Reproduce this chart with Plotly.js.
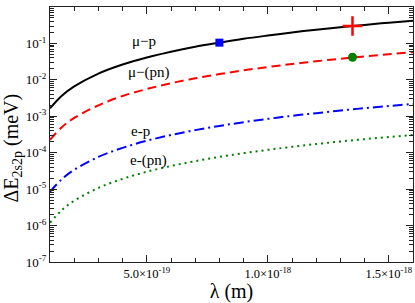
<!DOCTYPE html>
<html>
<head>
<meta charset="utf-8">
<script src="https://cdn.plot.ly/plotly-3.0.1.min.js"></script>
<style>html,body{margin:0;padding:0;background:#fff;}#chart{width:415px;height:303px;}</style>
</head>
<body>
<div id="chart"></div>
<script>
// wavelength lambda (m)
const lambda = [1e-19, 1.5e-19, 2e-19, 3e-19, 4e-19, 5e-19, 6e-19, 7e-19, 8e-19, 9e-19,
                1e-18, 1.1e-18, 1.2e-18, 1.3e-18, 1.4e-18, 1.5e-18, 1.6e-18];
// Delta E_{2s2p} (meV)
const muP  = [1.65e-3, 3.7e-3, 6.6e-3, 1.49e-2, 2.64e-2, 4.1e-2, 5.9e-2, 8.1e-2, 0.105, 0.134,
              0.165, 0.20, 0.238, 0.279, 0.323, 0.371, 0.42];
const muPN = [2.25e-4, 5.1e-4, 9.0e-4, 2.0e-3, 3.6e-3, 5.6e-3, 8.1e-3, 1.1e-2, 1.44e-2, 1.82e-2,
              2.25e-2, 2.72e-2, 3.24e-2, 3.8e-2, 4.41e-2, 5.06e-2, 5.76e-2];
const eP   = [8.5e-6, 1.9e-5, 3.4e-5, 7.65e-5, 1.36e-4, 2.13e-4, 3.06e-4, 4.17e-4, 5.44e-4, 6.89e-4,
              8.5e-4, 1.03e-3, 1.22e-3, 1.44e-3, 1.67e-3, 1.91e-3, 2.18e-3];
const ePN  = [1.2e-6, 2.7e-6, 4.8e-6, 1.08e-5, 1.92e-5, 3.0e-5, 4.32e-5, 5.88e-5, 7.68e-5, 9.72e-5,
              1.2e-4, 1.45e-4, 1.73e-4, 2.03e-4, 2.35e-4, 2.7e-4, 3.07e-4];
// special points
const squareX = [8e-19],   squareY = [0.105];
const crossX  = [1.35e-18], crossY = [0.30];
const circleX = [1.35e-18], circleY = [0.0416];
// curve labels
const labelText = ["μ−p", "μ−(pn)", "e-p", "e-(pn)"];
const labelX = [4.88e-19, 5.09e-19, 4.76e-19, 5.07e-19];
const labelY = [0.117, 0.0164, 3.94e-4, 5.93e-5];
// ticks
const xTickVals = [5e-19, 1e-18, 1.5e-18];
const xTickText = ["5.0×10<sup>-19</sup>", "1.0×10<sup>-18</sup>", "1.5×10<sup>-18</sup>"];
const yTickVals = [1e-7, 1e-6, 1e-5, 1e-4, 1e-3, 1e-2, 1e-1, 1];
const yTickText = ["10<sup>-7</sup>", "10<sup>-6</sup>", "10<sup>-5</sup>", "10<sup>-4</sup>",
                   "10<sup>-3</sup>", "10<sup>-2</sup>", "10<sup>-1</sup>", "10<sup>0</sup>"];

const xMinor = [];
for (let k = 1; k <= 16; k++) { if (k % 5 !== 0) xMinor.push(k * 1e-19); }
const yMinor = [];
for (let e = -7; e < 0; e++) { for (let d = 2; d <= 9; d++) yMinor.push(d * Math.pow(10, e)); }

const FONT = "Liberation Serif, Times New Roman, serif";
const AX = '#222';

const traces = [
  {x: lambda, y: muP, mode: 'lines', line: {color: '#000', width: 2, shape: 'spline'}},
  {x: lambda, y: muPN, mode: 'lines', line: {color: '#ff0000', width: 2, dash: '9px,5px', shape: 'spline'}},
  {x: lambda, y: eP, mode: 'lines', line: {color: '#0000ff', width: 2, dash: '10px,4px,2px,4px', shape: 'spline'}},
  {x: lambda, y: ePN, mode: 'lines', line: {color: '#008000', width: 2, dash: '2px,4px', shape: 'spline'}},
  {x: squareX, y: squareY, mode: 'markers', marker: {symbol: 'square', size: 8, color: '#0000ff'}},
  {x: crossX, y: crossY, mode: 'markers', marker: {symbol: 'cross-thin', size: 14, line: {color: '#ff0000', width: 2.5}}},
  {x: circleX, y: circleY, mode: 'markers', marker: {symbol: 'circle', size: 9, color: '#008000'}}
];

const annotations = labelText.map((t, i) => ({
  x: labelX[i], y: Math.log10(labelY[i]), xref: 'x', yref: 'y', text: t, showarrow: false,
  xanchor: 'center', yanchor: 'middle',
  font: {family: FONT, size: 15, color: '#000'}
}));
annotations.push({
  xref: 'paper', yref: 'paper', x: -0.106, y: 0.447, textangle: -90, showarrow: false,
  xanchor: 'center', yanchor: 'middle',
  text: "ΔE<sub>2s2p</sub> (meV)", font: {family: FONT, size: 20, color: '#000'}
});

const layout = {
  width: 415, height: 303,
  margin: {l: 50, r: 2, t: 7, b: 41, pad: 0},
  paper_bgcolor: '#fff', plot_bgcolor: '#fff',
  showlegend: false,
  font: {family: FONT, color: '#000'},
  xaxis: {
    range: [1e-19, 1.6e-18], showgrid: false, zeroline: false,
    showline: true, linecolor: AX, linewidth: 1, mirror: 'allticks',
    ticks: 'inside', ticklen: 7, tickcolor: AX, tickwidth: 1,
    tickmode: 'array', tickvals: xTickVals, ticktext: xTickText,
    tickfont: {family: FONT, size: 12.5, color: '#000'},
    minor: {tickmode: 'array', tickvals: xMinor, ticks: 'inside', ticklen: 4, tickcolor: AX, tickwidth: 1, showgrid: false},
    title: {text: 'λ (m)', font: {family: FONT, size: 20, color: '#000'}, standoff: 6}
  },
  yaxis: {
    type: 'log', range: [-7, 0], showgrid: false, zeroline: false,
    showline: true, linecolor: AX, linewidth: 1, mirror: 'allticks',
    ticks: 'inside', ticklen: 7, tickcolor: AX, tickwidth: 1,
    tickmode: 'array', tickvals: yTickVals, ticktext: yTickText,
    tickfont: {family: FONT, size: 13, color: '#000'},
    minor: {tickmode: 'array', tickvals: yMinor, ticks: 'inside', ticklen: 4, tickcolor: AX, tickwidth: 1, showgrid: false}
  },
  annotations: annotations
};

Plotly.newPlot('chart', traces, layout, {staticPlot: true, displayModeBar: false});
</script>
</body>
</html>
